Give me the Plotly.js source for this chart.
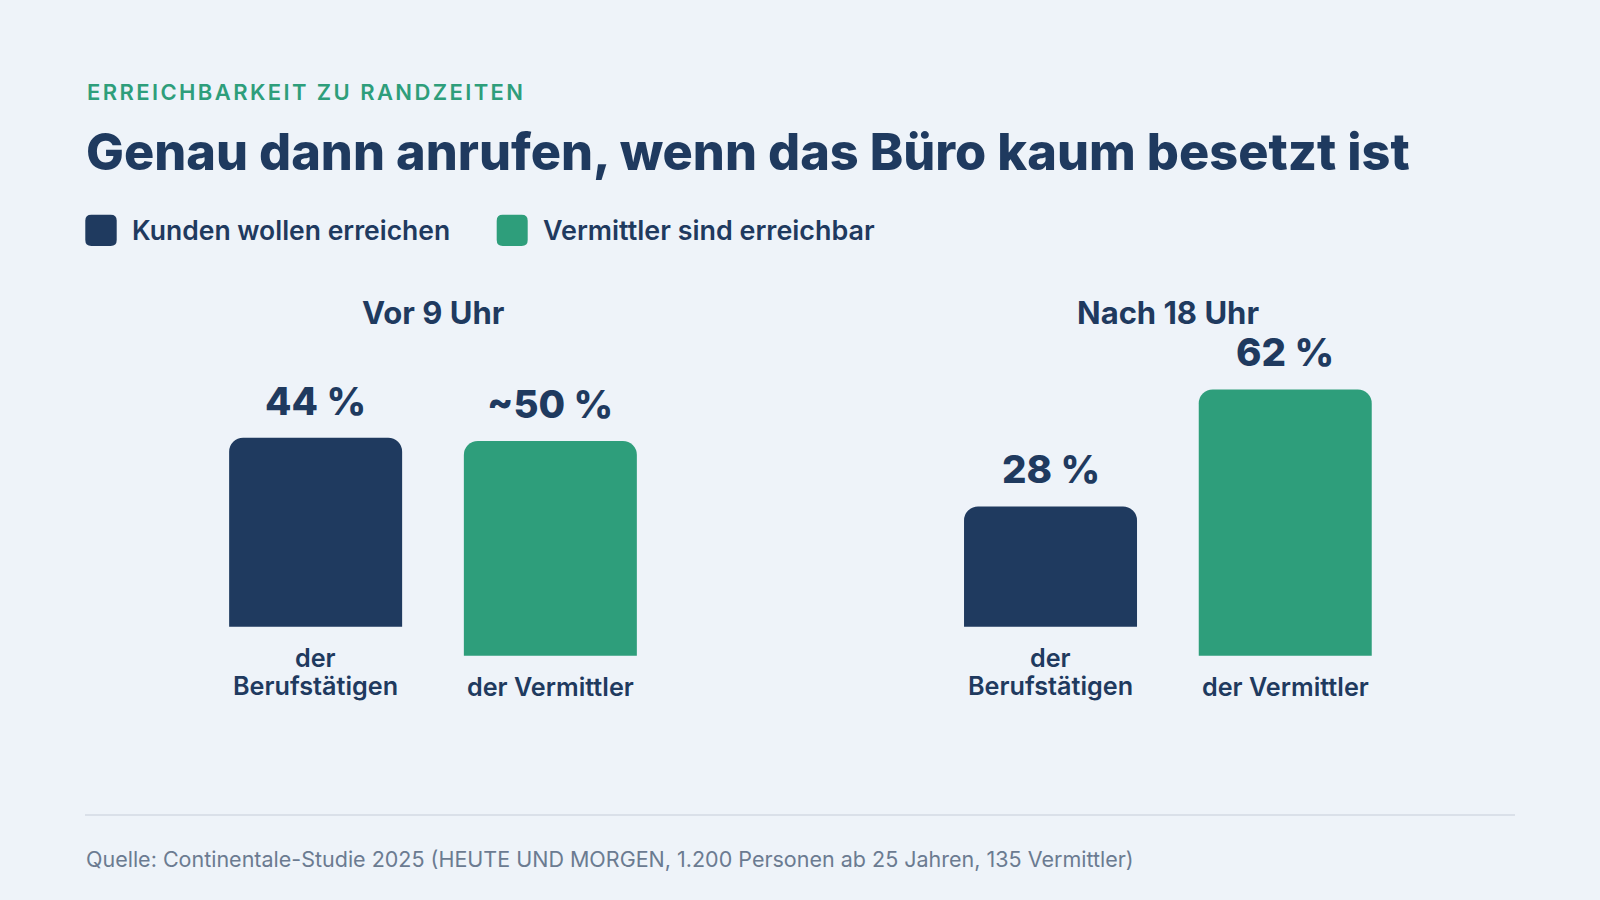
<!DOCTYPE html>
<html><head><meta charset="utf-8">
<script src="https://cdn.plot.ly/plotly-3.0.1.min.js"></script>
<style>
html,body{margin:0;padding:0;background:#eef3f9;}
#chart{width:1600px;height:900px;}
text[data-unformatted^="ERREICHBARKEIT"]{letter-spacing:2.4px;}
</style></head><body><div id="chart"></div>
<script>
// ---- data ----
const groups = ["Vor 9 Uhr", "Nach 18 Uhr"];
const kundenValues = [44, 28];
const vermittlerValues = [50, 62];
const kundenLabels = ["44 %", "28 %"];
const vermittlerLabels = ["~50 %", "62 %"];
const kundenCategory = "der<br>Berufstätigen";
const vermittlerCategory = "der Vermittler";
const seriesNames = ["Kunden wollen erreichen", "Vermittler sind erreichbar"];
const kicker = "ERREICHBARKEIT ZU RANDZEITEN";
const headline = "Genau dann anrufen, wenn das Büro kaum besetzt ist";
const source = "Quelle: Continentale-Studie 2025 (HEUTE UND MORGEN, 1.200 Personen ab 25 Jahren, 135 Vermittler)";

// ---- style ----
const W = 1600, H = 900;
const NAVY = "#1f3a5f", GREEN = "#2e9e7b", BG = "#eef3f9", GREY = "#6b7b91";
const FONT = "Inter, 'Open Sans', sans-serif";
const BAR_W = 0.2354, PAIR_SHIFT_PX = 117.35;
const LINE_H = 28.7;
const X = v => v / W, Y = v => 1 - v / H;

function rr(x0, y0, x1, y1, r) {
  const a = v => X(v).toFixed(5), b = v => Y(v).toFixed(5);
  return `M${a(x0+r)},${b(y0)} L${a(x1-r)},${b(y0)} Q${a(x1)},${b(y0)} ${a(x1)},${b(y0+r)} ` +
         `L${a(x1)},${b(y1-r)} Q${a(x1)},${b(y1)} ${a(x1-r)},${b(y1)} L${a(x0+r)},${b(y1)} ` +
         `Q${a(x0)},${b(y1)} ${a(x0)},${b(y1-r)} L${a(x0)},${b(y0+r)} Q${a(x0)},${b(y0)} ${a(x0+r)},${b(y0)} Z`;
}

const traces = [
  { type: "bar", name: seriesNames[0], x: groups, y: kundenValues, xaxis: "x", yaxis: "y2",
    width: BAR_W, offset: -0.1597 - BAR_W / 2, marker: { color: NAVY, cornerradius: 14 },
    hoverinfo: "skip", showlegend: false },
  { type: "bar", name: seriesNames[1], x: groups, y: vermittlerValues, xaxis: "x", yaxis: "y",
    width: BAR_W, offset: 0.1597 - BAR_W / 2, marker: { color: GREEN, cornerradius: 14 },
    hoverinfo: "skip", showlegend: false }
];

const ann = [];
ann.push({ text: kicker, xref: "paper", yref: "paper", x: X(84.5), y: Y(92), xanchor: "left", yanchor: "middle",
  showarrow: false, font: { family: FONT, size: 22, weight: 600, color: GREEN } });
ann.push({ text: headline, xref: "paper", yref: "paper", x: X(84), y: Y(151.7), xanchor: "left", yanchor: "middle",
  showarrow: false, font: { family: FONT, size: 50.45, weight: 800, color: NAVY } });
ann.push({ text: seriesNames[0], xref: "paper", yref: "paper", x: X(129.5), y: Y(230), xanchor: "left", yanchor: "middle",
  showarrow: false, font: { family: FONT, size: 26.5, weight: 600, color: NAVY } });
ann.push({ text: seriesNames[1], xref: "paper", yref: "paper", x: X(540.5), y: Y(230), xanchor: "left", yanchor: "middle",
  showarrow: false, font: { family: FONT, size: 26.9, weight: 600, color: NAVY } });
ann.push({ text: source, xref: "paper", yref: "paper", x: X(84), y: Y(858.5), xanchor: "left", yanchor: "middle",
  showarrow: false, font: { family: FONT, size: 21.5, weight: 400, color: GREY } });

function catLabel(text, g, xshift, yref) {
  text.split("<br>").forEach((line, k) => {
    ann.push({ text: line, xref: "x", yref: yref, x: g, xshift: xshift, y: 0,
      yshift: -(31 + k * LINE_H), xanchor: "center", yanchor: "middle", showarrow: false,
      font: { family: FONT, size: 25.2, weight: 600, color: NAVY } });
  });
}

groups.forEach((g, i) => {
  ann.push({ text: g, xref: "x", yref: "paper", x: g, y: Y(312), xanchor: "center", yanchor: "middle",
    showarrow: false, font: { family: FONT, size: 31, weight: 700, color: NAVY } });
  ann.push({ text: kundenLabels[i], xref: "x", yref: "y2", x: g, xshift: -PAIR_SHIFT_PX, y: kundenValues[i],
    yshift: 12, xanchor: "center", yanchor: "bottom", showarrow: false,
    font: { family: FONT, size: 38.5, weight: 800, color: NAVY } });
  ann.push({ text: vermittlerLabels[i], xref: "x", yref: "y", x: g, xshift: PAIR_SHIFT_PX, y: vermittlerValues[i],
    yshift: 12, xanchor: "center", yanchor: "bottom", showarrow: false,
    font: { family: FONT, size: 38.5, weight: 800, color: NAVY } });
  catLabel(kundenCategory, g, -PAIR_SHIFT_PX, "y2");
  catLabel(vermittlerCategory, g, PAIR_SHIFT_PX, "y");
});

const shapes = [
  { type: "path", xref: "paper", yref: "paper", path: rr(85.3, 214.7, 116.7, 246, 6), fillcolor: NAVY, line: { width: 0 } },
  { type: "path", xref: "paper", yref: "paper", path: rr(496.7, 214.7, 527.7, 246, 6), fillcolor: GREEN, line: { width: 0 } },
  { type: "line", xref: "paper", yref: "paper", x0: X(85), x1: X(1515), y0: Y(815), y1: Y(815),
    line: { color: "#d3dae3", width: 1.5 } }
];

const layout = {
  width: W, height: H, margin: { l: 0, r: 0, t: 0, b: 0 },
  paper_bgcolor: BG, plot_bgcolor: BG, barmode: "overlay", showlegend: false,
  xaxis: { type: "category", range: [-0.5892, 1.5880], visible: false, fixedrange: true },
  yaxis: { range: [-56.88, 152.67], visible: false, fixedrange: true },
  yaxis2: { range: [-63.63, 145.92], visible: false, overlaying: "y", fixedrange: true },
  annotations: ann, shapes: shapes
};

Plotly.newPlot("chart", traces, layout, { displayModeBar: false, staticPlot: true });
</script></body></html>
